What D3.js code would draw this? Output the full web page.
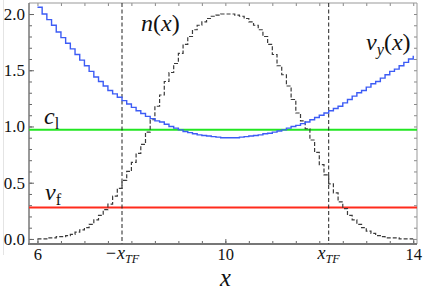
<!DOCTYPE html>
<html><head><meta charset="utf-8">
<script src="https://cdn.jsdelivr.net/npm/d3@7"></script>
<style>
html,body{margin:0;padding:0;background:#fff;}
svg{display:block;}
</style></head>
<body>
<svg id="c" width="425" height="291" font-family="Liberation Serif"></svg>
<script>
// ---- data ----
const binStep = 0.1;
const xStart = 6.0;
const nVals = [0.00,0.00,0.01,0.01,0.02,0.02,0.03,0.04,0.06,0.08,
  0.10,0.13,0.17,0.21,0.26,0.31,0.38,0.45,0.52,0.60,
  0.68,0.76,0.84,0.95,1.06,1.18,1.28,1.40,1.48,1.56,
  1.65,1.73,1.80,1.86,1.90,1.93,1.96,1.98,1.99,2.00,
  2.00,2.00,1.99,1.98,1.96,1.93,1.90,1.86,1.80,1.73,
  1.64,1.54,1.46,1.36,1.24,1.12,1.05,0.98,0.88,0.77,
  0.66,0.57,0.49,0.41,0.33,0.27,0.21,0.17,0.13,0.10,
  0.07,0.05,0.03,0.02,0.01,0.01,0.01,0.00,0.00,0.00,0.00];
const vyVals = [2.06,2.00,1.95,1.90,1.84,1.79,1.74,1.69,1.64,1.59,
  1.54,1.49,1.44,1.40,1.36,1.32,1.29,1.26,1.23,1.20,
  1.17,1.14,1.115,1.09,1.07,1.05,1.04,1.02,1.00,0.985,
  0.97,0.955,0.945,0.935,0.925,0.92,0.915,0.91,0.905,0.90,
  0.90,0.90,0.90,0.905,0.91,0.915,0.92,0.925,0.935,0.94,
  0.95,0.96,0.97,0.985,1.00,1.01,1.025,1.04,1.06,1.08,
  1.10,1.12,1.14,1.16,1.18,1.21,1.24,1.27,1.30,1.32,
  1.35,1.38,1.40,1.43,1.46,1.49,1.51,1.54,1.57,1.60,1.63];
const cl = 0.97;
const vf = 0.28;
const xTF = [7.8, 12.2];
const xMajor = [6, 10, 14];
const yMajor = [0.0, 0.5, 1.0, 1.5, 2.0];
const yMajorLabels = ["0.0", "0.5", "1.0", "1.5", "2.0"];

// ---- layout ----
const FONT = "Liberation Serif";
const svg = d3.select("#c");
const L = 29, R = 417, T = 3, B = 244;
const x = d3.scaleLinear().domain([5.82, 14.08]).range([L, R]);
const y = d3.scaleLinear().domain([-0.045, 2.098]).range([B, T]);

const xMinor = d3.range(6, 14.01, 0.5);
const yMinor = d3.range(0, 2.001, 0.1).map(v => +v.toFixed(1));

svg.append("line").attr("x1", 3.5).attr("x2", 3.5).attr("y1", 0).attr("y2", 255)
  .attr("stroke", "#e4e4e4").attr("stroke-width", 1);

svg.append("clipPath").attr("id", "clip").append("rect")
  .attr("x", L).attr("y", T).attr("width", R - L).attr("height", B - T);

function styleAxis(g, col, w) {
  g.attr("font-family", FONT);
  g.selectAll(".domain").remove();
  g.selectAll(".tick line").attr("stroke", col).attr("stroke-width", w);
}

const gxb = svg.append("g").attr("transform", `translate(0,${B})`)
  .call(d3.axisBottom(x).tickValues(xMinor).tickSize(-3).tickFormat(""));
styleAxis(gxb, "#666", 1);
const gxbM = svg.append("g").attr("transform", `translate(0,${B})`)
  .call(d3.axisBottom(x).tickValues(xMajor).tickSize(-5).tickPadding(4.5).tickFormat(d3.format("d")));
styleAxis(gxbM, "#666", 1);
gxbM.attr("font-size", 16.5);
gxbM.selectAll("text").attr("font-family", FONT).attr("fill", "#111");
const gxt = svg.append("g").attr("transform", `translate(0,${T})`)
  .call(d3.axisTop(x).tickValues(xMinor).tickSize(-3).tickFormat(""));
styleAxis(gxt, "#888", 1);
const gyl = svg.append("g").attr("transform", `translate(${L},0)`)
  .call(d3.axisLeft(y).tickValues(yMinor).tickSize(-3).tickFormat(""));
styleAxis(gyl, "#666", 1);
const gylM = svg.append("g").attr("transform", `translate(${L},0)`)
  .call(d3.axisLeft(y).tickValues(yMajor).tickSize(-5).tickPadding(4)
    .tickFormat((d, i) => yMajorLabels[i]));
styleAxis(gylM, "#666", 1);
gylM.attr("font-size", 17);
gylM.selectAll("text").attr("font-family", FONT).attr("fill", "#111");
const gyr = svg.append("g").attr("transform", `translate(${R},0)`)
  .call(d3.axisRight(y).tickValues(yMinor).tickSize(-3).tickFormat(""));
styleAxis(gyr, "#888", 1);

svg.append("line").attr("x1", L).attr("x2", R).attr("y1", T).attr("y2", T).attr("stroke", "#999").attr("stroke-width", 1);
svg.append("line").attr("x1", R).attr("x2", R).attr("y1", T).attr("y2", B).attr("stroke", "#999").attr("stroke-width", 1);
svg.append("line").attr("x1", L).attr("x2", L).attr("y1", T).attr("y2", B + 1).attr("stroke", "#777").attr("stroke-width", 1.5);
svg.append("line").attr("x1", L - 1).attr("x2", R).attr("y1", B).attr("y2", B).attr("stroke", "#777").attr("stroke-width", 1.8);

const plot = svg.append("g").attr("clip-path", "url(#clip)");

plot.append("line").attr("x1", L).attr("x2", R).attr("y1", y(cl)).attr("y2", y(cl))
  .attr("stroke", "#22e622").attr("stroke-width", 2);
plot.append("line").attr("x1", L).attr("x2", R).attr("y1", y(vf)).attr("y2", y(vf))
  .attr("stroke", "#ff2b1c").attr("stroke-width", 2);

xTF.forEach(v => {
  plot.append("line").attr("x1", x(v)).attr("x2", x(v)).attr("y1", T).attr("y2", B)
    .attr("stroke", "#222").attr("stroke-width", 1).attr("stroke-dasharray", "4,2.5");
});

const nData = nVals.map((v, i) => [xStart + i * binStep, v]);
plot.append("path").datum(nData)
  .attr("d", d3.line().x(d => x(d[0])).y(d => y(d[1])).curve(d3.curveStepAfter))
  .attr("fill", "none").attr("stroke", "#3a3a3a").attr("stroke-width", 1.2)
  .attr("stroke-dasharray", "4,2");

const vData = vyVals.map((v, i) => [xStart + i * binStep, v]);
plot.append("path").datum(vData)
  .attr("d", d3.line().x(d => x(d[0])).y(d => y(d[1])).curve(d3.curveStepAfter))
  .attr("fill", "none").attr("stroke", "#3d5cf5").attr("stroke-width", 1.4);

function mathLabel(px, py, main, sub, rest, size, subItalic, anchor) {
  const t = svg.append("text").attr("x", px).attr("y", py)
    .attr("font-family", FONT).attr("font-size", size).attr("fill", "#111")
    .attr("text-anchor", anchor || "start");
  t.append("tspan").attr("font-style", "italic").text(main);
  if (sub) t.append("tspan").attr("font-size", size * 0.68).attr("dy", size * 0.22)
    .attr("font-style", subItalic ? "italic" : "normal").text(sub);
  if (rest) rest.forEach((r, i) => {
    const s = t.append("tspan").attr("font-style", r.it ? "italic" : "normal").text(r.t);
    if (i === 0 && sub) s.attr("dy", -size * 0.22);
  });
  return t;
}
mathLabel(44, 124, "c", "l", null, 24, false);
mathLabel(45, 200, "v", "f", null, 24, false);
mathLabel(141, 31, "n", null, [{t: "(", it: false}, {t: "x", it: true}, {t: ")", it: false}], 24, false);
mathLabel(366, 50, "v", "y", [{t: "(", it: false}, {t: "x", it: true}, {t: ")", it: false}], 24, true);

mathLabel(x(xTF[0]), 259, "\u2212x", "TF", null, 18, true, "middle");
mathLabel(x(xTF[1]), 259, "x", "TF", null, 18, true, "middle");

svg.append("text").attr("x", x(10)).attr("y", 285.5).attr("text-anchor", "middle")
  .attr("font-family", FONT).attr("font-style", "italic").attr("font-size", 24.5)
  .attr("fill", "#111").text("x");
</script>
</body></html>
